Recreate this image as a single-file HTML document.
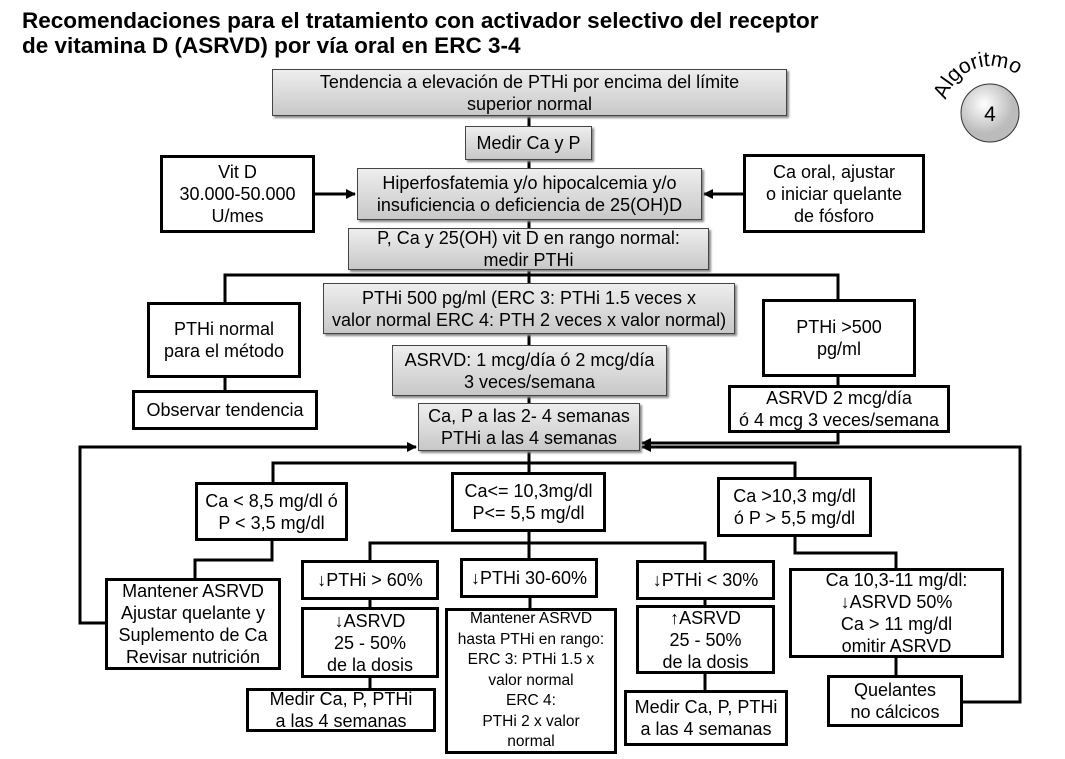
<!DOCTYPE html>
<html><head><meta charset="utf-8"><style>
body{margin:0;width:1065px;height:759px;background:#fff;position:relative;overflow:hidden;font-family:"Liberation Sans",sans-serif;}
.t{position:absolute;left:22px;top:8px;font-family:"Liberation Sans",sans-serif;font-weight:bold;font-size:22.5px;line-height:25px;color:#000;}
.b{position:absolute;box-sizing:border-box;display:flex;align-items:center;justify-content:center;text-align:center;font-size:18px;line-height:22px;color:#000;background:#fff;border:3px solid #000;white-space:nowrap;}
.g{background:linear-gradient(#eee,#c8c8c8);border:1px solid #444;box-shadow:2px 2px 2px #888;}
svg{position:absolute;left:0;top:0;}
.s{font-size:15.5px;line-height:20.5px;}
</style></head><body>
<div class="t">Recomendaciones para el tratamiento con activador selectivo del receptor<br>de vitamina D (ASRVD) por vía oral en ERC 3-4</div>
<svg width="1065" height="759">
<defs><marker id="a" markerUnits="userSpaceOnUse" markerWidth="10" markerHeight="10" refX="9" refY="5" orient="auto"><path d="M0,0L10,5L0,10z" fill="#000"/></marker>
<radialGradient id="cg" cx="40%" cy="35%"><stop offset="0" stop-color="#fff"/><stop offset="1" stop-color="#bbb"/></radialGradient></defs>
<g stroke="#000" stroke-width="3" fill="none">
<line x1="529" y1="116" x2="529" y2="126"/>
<line x1="529" y1="160" x2="529" y2="168"/>
<line x1="315" y1="194" x2="355" y2="194" marker-end="url(#a)"/>
<line x1="743" y1="194" x2="704" y2="194" marker-end="url(#a)"/>
<line x1="529" y1="220" x2="529" y2="228"/>
<line x1="529" y1="270" x2="529" y2="283"/>
<polyline points="225,302 225,275 838,275 838,299"/>
<line x1="529" y1="334" x2="529" y2="345"/>
<line x1="529" y1="396" x2="529" y2="403"/>
<line x1="225" y1="378" x2="225" y2="390"/>
<line x1="838" y1="377" x2="838" y2="385"/>
<polyline points="838,433 838,443 642,443" marker-end="url(#a)"/>
<polyline points="105,623 80,623 80,447 416,447" marker-end="url(#a)"/>
<polyline points="963,702 1020,702 1020,447 642,447" marker-end="url(#a)"/>
<line x1="529" y1="451" x2="529" y2="472"/>
<polyline points="273,482 273,463 795,463 795,477"/>
<polyline points="272,541 272,560 195,560 195,578"/>
<polyline points="370,560 370,543 705,543 705,560"/>
<line x1="529" y1="532" x2="529" y2="558"/>
<line x1="370" y1="600" x2="370" y2="607"/>
<line x1="370" y1="678" x2="370" y2="688"/>
<line x1="530" y1="598" x2="530" y2="608"/>
<line x1="705" y1="600" x2="705" y2="605"/>
<line x1="705" y1="674" x2="705" y2="690"/>
<polyline points="795,537 795,553 896,553 896,568"/>
<line x1="896" y1="658" x2="896" y2="675"/>
</g>
<circle cx="990" cy="113" r="29" fill="url(#cg)" stroke="#333" stroke-width="1"/>
<text x="990" y="121" text-anchor="middle" font-family="Liberation Sans" font-size="21">4</text>
<path id="arc" d="M946,100 A46,46 0 0 1 1036,106" fill="none"/>
<text font-family="Liberation Sans" font-size="21"><textPath href="#arc">Algoritmo</textPath></text>
</svg>
<div class="b g" style="left:272px;top:69px;width:515px;height:47px">Tendencia a elevación de PTHi por encima del límite<br>superior normal</div>
<div class="b g" style="left:465px;top:126px;width:127px;height:34px">Medir Ca y P</div>
<div class="b" style="left:160px;top:155px;width:155px;height:78px">Vit D<br>30.000-50.000<br>U/mes</div>
<div class="b g" style="left:357px;top:168px;width:345px;height:52px">Hiperfosfatemia y/o hipocalcemia y/o<br>insuficiencia o deficiencia de 25(OH)D</div>
<div class="b" style="left:743px;top:154px;width:182px;height:79px">Ca oral, ajustar<br>o iniciar quelante<br>de fósforo</div>
<div class="b g" style="left:348px;top:228px;width:361px;height:42px">P, Ca y 25(OH) vit D en rango normal:<br>medir PTHi</div>
<div class="b g" style="left:323px;top:283px;width:412px;height:51px">PTHi 500 pg/ml (ERC 3: PTHi 1.5 veces x<br>valor normal ERC 4: PTH 2 veces x valor normal)</div>
<div class="b" style="left:147px;top:302px;width:154px;height:76px">PTHi normal<br>para el método</div>
<div class="b" style="left:762px;top:299px;width:154px;height:78px">PTHi &gt;500<br>pg/ml</div>
<div class="b g" style="left:392px;top:345px;width:275px;height:51px">ASRVD: 1 mcg/día ó 2 mcg/día<br>3 veces/semana</div>
<div class="b" style="left:132px;top:390px;width:186px;height:40px">Observar tendencia</div>
<div class="b" style="left:728px;top:385px;width:222px;height:48px">ASRVD 2 mcg/día<br>ó 4 mcg 3 veces/semana</div>
<div class="b g" style="left:418px;top:403px;width:222px;height:48px">Ca, P a las 2- 4 semanas<br>PTHi a las 4 semanas</div>
<div class="b" style="left:195px;top:482px;width:153px;height:59px">Ca &lt; 8,5 mg/dl ó<br>P &lt; 3,5 mg/dl</div>
<div class="b" style="left:451px;top:472px;width:155px;height:60px">Ca&lt;= 10,3mg/dl<br>P&lt;= 5,5 mg/dl</div>
<div class="b" style="left:717px;top:477px;width:155px;height:60px">Ca &gt;10,3 mg/dl<br>ó P &gt; 5,5 mg/dl</div>
<div class="b" style="left:301px;top:560px;width:138px;height:40px">↓PTHi &gt; 60%</div>
<div class="b" style="left:460px;top:558px;width:138px;height:40px">↓PTHi 30-60%</div>
<div class="b" style="left:636px;top:560px;width:139px;height:40px">↓PTHi &lt; 30%</div>
<div class="b" style="left:105px;top:578px;width:176px;height:92px">Mantener ASRVD<br>Ajustar quelante y<br>Suplemento de Ca<br>Revisar nutrición</div>
<div class="b" style="left:789px;top:568px;width:215px;height:90px">Ca 10,3-11 mg/dl:<br>↓ASRVD 50%<br>Ca &gt; 11 mg/dl<br>omitir ASRVD</div>
<div class="b" style="left:301px;top:607px;width:138px;height:71px">↓ASRVD<br>25 - 50%<br>de la dosis</div>
<div class="b s" style="left:445px;top:608px;width:172px;height:146px">Mantener ASRVD<br>hasta PTHi en rango:<br>ERC 3: PTHi 1.5 x<br>valor normal<br>ERC 4:<br>PTHi 2 x valor<br>normal</div>
<div class="b" style="left:636px;top:605px;width:139px;height:69px">↑ASRVD<br>25 - 50%<br>de la dosis</div>
<div class="b" style="left:246px;top:688px;width:190px;height:44px">Medir Ca, P, PTHi<br>a las 4 semanas</div>
<div class="b" style="left:624px;top:690px;width:164px;height:56px">Medir Ca, P, PTHi<br>a las 4 semanas</div>
<div class="b" style="left:827px;top:675px;width:136px;height:52px">Quelantes<br>no cálcicos</div>
</body></html>
